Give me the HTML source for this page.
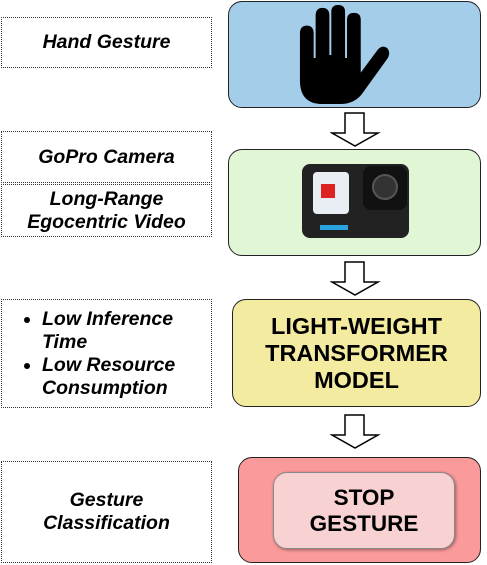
<!DOCTYPE html>
<html><head><style>
body{margin:0;width:487px;height:565px;background:#fff;position:relative;font-family:"Liberation Sans",sans-serif;overflow:hidden}
.l{position:absolute;left:1px;width:211px;border:1px dotted #333;box-sizing:border-box;display:flex;align-items:center;justify-content:center;text-align:center;font-weight:bold;font-style:italic;font-size:19.5px;line-height:23px;color:#000}
.b{position:absolute;border:1px solid #222;border-radius:14px;box-sizing:border-box}
.t{display:flex;align-items:center;justify-content:center;text-align:center;font-weight:bold;font-size:23.5px;line-height:27px}
</style></head><body>
<div class="l" style="top:17px;height:51px">Hand Gesture</div>
<div class="l" style="top:131px;height:52px">GoPro Camera</div>
<div class="l" style="top:184px;height:53px">Long-Range<br>Egocentric Video</div>
<div class="l" style="top:299px;height:109px;justify-content:flex-start;text-align:left;padding-left:2px"><ul style="margin:0;padding-left:38px;width:150px"><li>Low Inference Time</li><li>Low Resource Consumption</li></ul></div>
<div class="l" style="top:461px;height:102px">Gesture<br>Classification</div>

<div class="b" style="left:228px;top:1px;width:253px;height:107px;background:#a4cdea"></div>
<svg style="position:absolute;left:298px;top:4px" width="100" height="102" viewBox="0 0 100 104">
<path fill="#000" d="M1,78 L1,30 Q1,22 8,22 Q15,22 15,30 L15,55 L17,55 L17,12 Q17,4 24,4 Q31,4 31,12 L31,52 L33,52 L33,8 Q33,1 40,1 Q47,1 47,8 L47,55 L49,55 L49,16 Q49,9 56,9 Q63,9 63,16 L63,70 L80,47 Q85,41 90,45 Q94,50 90,56 L64,92 Q56,102 42,102 L24,102 Q1,102 1,78 Z"/>
</svg>
<svg style="position:absolute;left:330px;top:112px" width="52" height="36"><path d="M15,1 H34 V21 H48 L25,34 L2,21 H15 Z" fill="#fff" stroke="#000" stroke-width="1.5"/></svg>

<div class="b" style="left:228px;top:149px;width:253px;height:107px;background:#e0f6d4"></div>
<div style="position:absolute;left:302px;top:164px;width:107px;height:74px;background:#222;border-radius:8px"></div>
<div style="position:absolute;left:313px;top:172px;width:36px;height:42px;background:#e8eef4;border-radius:4px;overflow:hidden"><div style="position:absolute;left:8px;top:12px;width:14px;height:14px;background:#d22"></div></div>
<div style="position:absolute;left:363px;top:166px;width:44px;height:44px;background:#111;border-radius:8px"></div>
<div style="position:absolute;left:372px;top:174px;width:26px;height:26px;background:#333;border-radius:50%;border:2px solid #555;box-sizing:border-box"></div>
<div style="position:absolute;left:320px;top:225px;width:28px;height:5px;background:#29a3e0"></div>
<svg style="position:absolute;left:330px;top:261px" width="52" height="36"><path d="M15,1 H34 V21 H48 L25,34 L2,21 H15 Z" fill="#fff" stroke="#000" stroke-width="1.5"/></svg>

<div class="b t" style="left:232px;top:299px;width:249px;height:108px;background:#f3eb9f">LIGHT-WEIGHT<br>TRANSFORMER<br>MODEL</div>
<svg style="position:absolute;left:330px;top:414px" width="52" height="36"><path d="M15,1 H34 V21 H48 L25,34 L2,21 H15 Z" fill="#fff" stroke="#000" stroke-width="1.5"/></svg>

<div class="b" style="left:238px;top:457px;width:243px;height:106px;background:#fb9a9a"></div>
<div class="b t" style="left:273px;top:472px;width:182px;height:77px;background:#f8d2d2;border-color:#888;box-shadow:1px 1px 3px rgba(0,0,0,.4);font-size:22.5px;line-height:26px">STOP<br>GESTURE</div>
</body></html>
